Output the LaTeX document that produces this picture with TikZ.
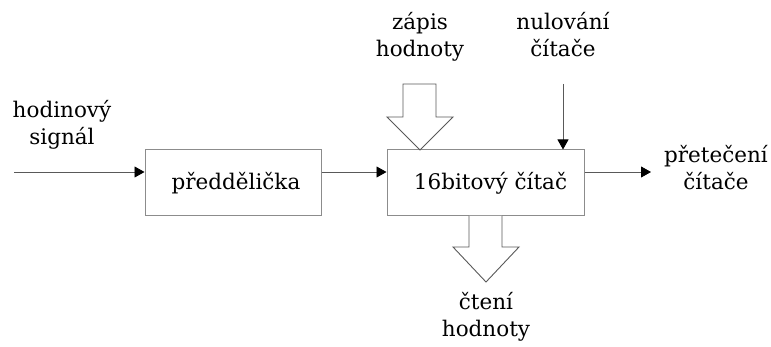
\documentclass[tikz,border=0pt]{standalone}
\usepackage{fontspec}
\setmainfont{DejaVu Serif}
\usetikzlibrary{arrows.meta,calc}
\begin{document}
\begin{tikzpicture}[x=1pt,y=-1pt,
  every node/.style={font=\fontsize{21.5}{27}\selectfont, inner sep=0pt},
  blockbox/.style={draw=black!45, line width=1pt, fill=white},
  conn/.style={draw=black!65, line width=0.9pt, -{Triangle[length=10pt,width=11pt,color=black]}},
  hollow/.style={draw=black!65, line width=0.9pt, fill=white, line join=miter},
  lbl/.style={align=center, anchor=base}]
\useasboundingbox (0,0) rectangle (771,347);
\node[blockbox, minimum width=176pt, minimum height=66pt] (pre) at (233,183) {\hspace*{6pt}předdělička};
\node[blockbox, minimum width=197pt, minimum height=66pt] (cnt) at (485.5,183) {\hspace*{10pt}16bitový čítač};
\node[lbl] (clk) at (62,145) {hodinový\\signál};
\node[lbl] (wr) at (420,57) {zápis\\hodnoty};
\node[lbl] (rst) at (563,57) {nulování\\čítače};
\node[lbl] (ovf) at (716,190) {přetečení\\čítače};
\node[lbl] (rd) at (486,337) {čtení\\hodnoty};
\coordinate (clkin) at (14,172);
\coordinate (rsttop) at (563,84);
\coordinate (ovfend) at (651,172);
\draw[conn] (clkin) -- (clkin -| pre.west);
\draw[conn] (pre.east |- clkin) -- (cnt.west |- clkin);
\draw[conn] (cnt.east |- clkin) -- (ovfend);
\draw[conn] (rsttop) -- (rsttop |- cnt.north);
% write value hollow arrow
\draw[hollow] (403,84) -- (436,84) -- (436,117) -- (453,117) -- (420,150) -- (387,117) -- (403,117) -- cycle;
% read value hollow arrow
\draw[hollow] (469,216) -- (469,247) -- (453,247) -- (486,282) -- (519,247) -- (502,247) -- (502,216);
\end{tikzpicture}
\end{document}
